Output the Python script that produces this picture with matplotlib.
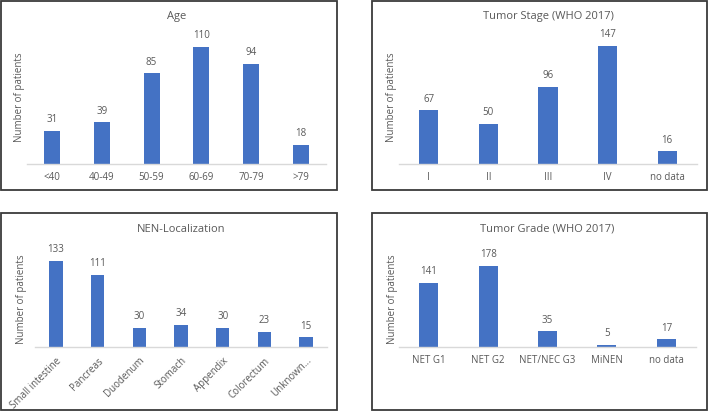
import matplotlib.pyplot as plt
from matplotlib.patches import Rectangle

# data
age_labels = ["<40", "40-49", "50-59", "60-69", "70-79", ">79"]
age_counts = [31, 39, 85, 110, 94, 18]

stage_labels = ["I", "II", "III", "IV", "no data"]
stage_counts = [67, 50, 96, 147, 16]

loc_labels = ["Small intestine", "Pancreas", "Duodenum", "Stomach", "Appendix", "Colorectum", "Unknown..."]
loc_counts = [133, 111, 30, 34, 30, 23, 15]

grade_labels = ["NET G1", "NET G2", "NET/NEC G3", "MiNEN", "no data"]
grade_counts = [141, 178, 35, 5, 17]

W, H = 709, 412
BLUE = '#4472C4'
TEXT = '#595959'
plt.rcParams['font.family'] = ['Open Sans', 'DejaVu Sans']

fig = plt.figure(figsize=(W / 100, H / 100), dpi=100)


def px_axes(x0, y_top, x1, y_base):
    # pixel box (top-left origin) -> figure axes
    return fig.add_axes([x0 / W, 1 - y_base / H, (x1 - x0) / W, (y_base - y_top) / H])


def px_border(x0, y0, x1, y1):
    fig.patches.append(Rectangle((x0 / W, 1 - y1 / H), (x1 - x0) / W, (y1 - y0) / H,
                                 transform=fig.transFigure, fill=False,
                                 edgecolor='#3a3a3a', linewidth=1.3))


def bar_panel(ax, labels, counts, ymax, title, title_y, label_x, rot=0):
    x = range(len(labels))
    ax.bar(x, counts, width=0.32, color=BLUE)
    for i, v in zip(x, counts):
        ax.annotate(str(v), (i, v), xytext=(0, 4), textcoords='offset points',
                    ha='center', va='bottom', fontsize=7, color=TEXT)
    ax.set_xlim(-0.5, len(labels) - 0.5)
    ax.set_ylim(0, ymax)
    ax.set_yticks([])
    ax.set_xticks(list(x))
    if rot:
        ax.set_xticklabels(labels, rotation=rot, ha='right', rotation_mode='anchor',
                           fontsize=7, color=TEXT)
    else:
        ax.set_xticklabels(labels, fontsize=7, color=TEXT)
    ax.tick_params(axis='x', length=0, pad=6)
    for s in ['top', 'right', 'left']:
        ax.spines[s].set_visible(False)
    ax.spines['bottom'].set_color('#D9D9D9')
    ax.spines['bottom'].set_linewidth(1)
    ax.set_ylabel("Number of patients", fontsize=7, color=TEXT)
    ax.yaxis.set_label_coords(label_x, 0.52)
    fig.text(ax.get_position().x0 + ax.get_position().width / 2, 1 - title_y / H, title,
             ha='center', va='center', fontsize=8, color=TEXT)


# Age
ax1 = px_axes(27, 36, 326, 164)
bar_panel(ax1, age_labels, age_counts, 120, "Age", 17, -0.008)

# Tumor stage
ax2 = px_axes(399, 35.5, 697, 164)
bar_panel(ax2, stage_labels, stage_counts, 160, "Tumor Stage (WHO 2017)", 17, -0.008)

# Localization
ax3 = px_axes(35, 256, 327, 347)
bar_panel(ax3, loc_labels, loc_counts, 140, "NEN-Localization", 229, -0.026, rot=45)

# Tumor grade
ax4 = px_axes(399, 256, 696, 347)
bar_panel(ax4, grade_labels, grade_counts, 200, "Tumor Grade (WHO 2017)", 229, -0.005)

px_border(1, 1, 337, 190)
px_border(372, 1, 707, 190)
px_border(1, 213, 337, 410)
px_border(372, 213, 707, 410)

fig.savefig("out.png", dpi=100)
